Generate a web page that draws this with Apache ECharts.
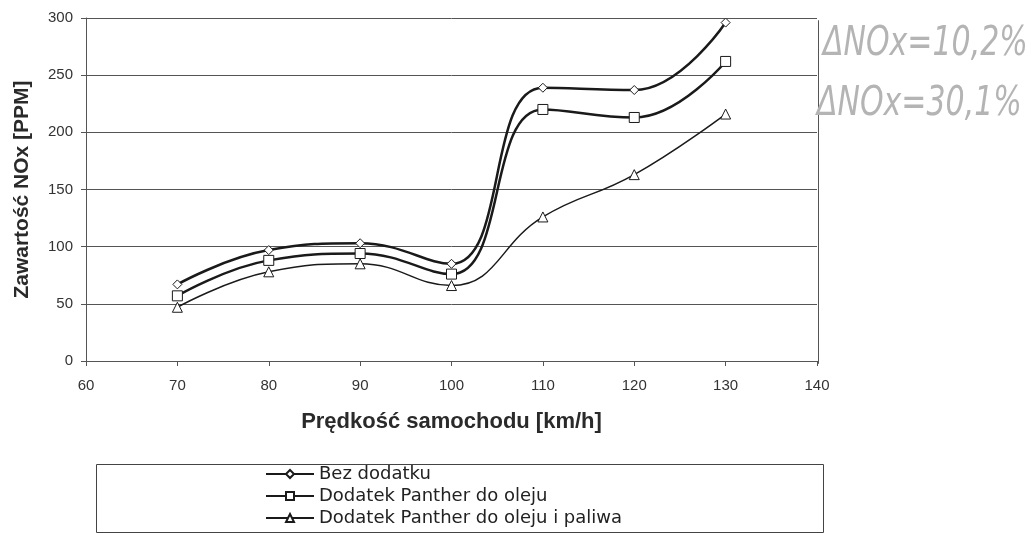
<!DOCTYPE html>
<html>
<head>
<meta charset="utf-8">
<script src="https://cdn.jsdelivr.net/npm/echarts@6/dist/echarts.min.js"></script>
<style>
  html, body { margin: 0; padding: 0; background: #fff; }
  #main { width: 1035px; height: 533px; }
</style>
</head>
<body>
<div id="main"></div>
<script>
// predkosc samochodu [km/h]
var speeds = [70, 80, 90, 100, 110, 120, 130];
// zawartosc NOx [PPM]
var bezDodatku = [67, 97, 103, 85, 239, 237, 296];
var dodatekOlej = [57, 88, 94, 76, 220, 213, 262];
var dodatekOlejPaliwo = [47, 78, 85, 66, 126, 163, 216];
var seriesNames = ["Bez dodatku", "Dodatek Panther do oleju", "Dodatek Panther do oleju i paliwa"];
var yTicks = [0, 50, 100, 150, 200, 250, 300];
var xTicks = [60, 70, 80, 90, 100, 110, 120, 130, 140];
var notes = ["ΔNOx=10,2%", "ΔNOx=30,1%"];

function pairs(vals) {
  var res = [];
  for (var i = 0; i < speeds.length; i++) {
    res.push([speeds[i], vals[i]]);
  }
  return res;
}

var myChart = echarts.init(document.getElementById("main"));
var font = "Liberation Sans, Arial, sans-serif";

function lineSeries(name, vals, symbol, size, width) {
  return {
    name: name,
    type: "line",
    data: pairs(vals),
    smooth: 0.45,
    symbol: symbol,
    symbolSize: size,
    showAllSymbol: true,
    lineStyle: { color: "#1a1a1a", width: width },
    itemStyle: { color: "#fff", borderColor: "#1a1a1a", borderWidth: 1 },
    emphasis: { disabled: true },
    z: 3
  };
}

var option = {
  animation: false,
  textStyle: { fontFamily: font },
  grid: { left: 86, right: 218, top: 18, bottom: 172 },
  xAxis: {
    type: "value",
    min: xTicks[0],
    max: xTicks[xTicks.length - 1],
    interval: 10,
    name: "Prędkość samochodu [km/h]",
    nameLocation: "middle",
    nameGap: 50,
    nameMoveOverlap: false,
    nameTextStyle: { fontSize: 22, fontWeight: "bold", color: "#2a2a2a", fontFamily: font },
    axisLine: { lineStyle: { color: "#555", width: 1 } },
    axisTick: { show: true, length: 5, lineStyle: { color: "#555" } },
    axisLabel: { fontSize: 15, color: "#333", margin: 17 },
    splitLine: { show: false }
  },
  yAxis: {
    type: "value",
    min: yTicks[0],
    max: yTicks[yTicks.length - 1],
    interval: 50,
    name: "Zawartość NOx [PPM]",
    nameLocation: "middle",
    nameGap: 53,
    nameRotate: 90,
    nameMoveOverlap: false,
    nameTextStyle: { fontSize: 21, fontWeight: "bold", color: "#2a2a2a", fontFamily: font },
    axisLine: { show: true, lineStyle: { color: "#555", width: 1 } },
    axisTick: { show: true, length: 5, lineStyle: { color: "#555" } },
    axisLabel: { fontSize: 15, color: "#333", margin: 13 },
    splitLine: { show: true, lineStyle: { color: "#555", width: 1 } }
  },
  legend: {
    orient: "vertical",
    left: 265,
    top: 464,
    padding: 0,
    itemGap: 2,
    itemWidth: 48,
    itemHeight: 10,
    textStyle: { fontSize: 18, lineHeight: 20, color: "#222", fontFamily: "DejaVu Sans" },
    data: seriesNames
  },
  graphic: [
    {
      type: "rect",
      left: 94,
      top: 462,
      shape: { width: 727, height: 68 },
      style: { fill: "none", stroke: "#444", lineWidth: 1 }
    },
    {
      type: "rect",
      left: 816,
      top: 18,
      shape: { width: 0, height: 343 },
      style: { fill: "none", stroke: "#555", lineWidth: 1 }
    },
    {
      type: "text",
      x: 823,
      y: 24,
      scaleY: 1.35,
      style: { text: notes[0], fontSize: 30, fontStyle: "italic", fontWeight: "lighter", fontFamily: "DejaVu Sans", fill: "#b4b4b4" }
    },
    {
      type: "text",
      x: 817,
      y: 84,
      scaleY: 1.35,
      style: { text: notes[1], fontSize: 30, fontStyle: "italic", fontWeight: "lighter", fontFamily: "DejaVu Sans", fill: "#b4b4b4" }
    }
  ],
  series: [
    lineSeries(seriesNames[0], bezDodatku, "diamond", 9, 2.5),
    lineSeries(seriesNames[1], dodatekOlej, "rect", 10, 2.5),
    lineSeries(seriesNames[2], dodatekOlejPaliwo, "triangle", 10, 1.5)
  ]
};

myChart.setOption(option);
</script>
</body>
</html>
